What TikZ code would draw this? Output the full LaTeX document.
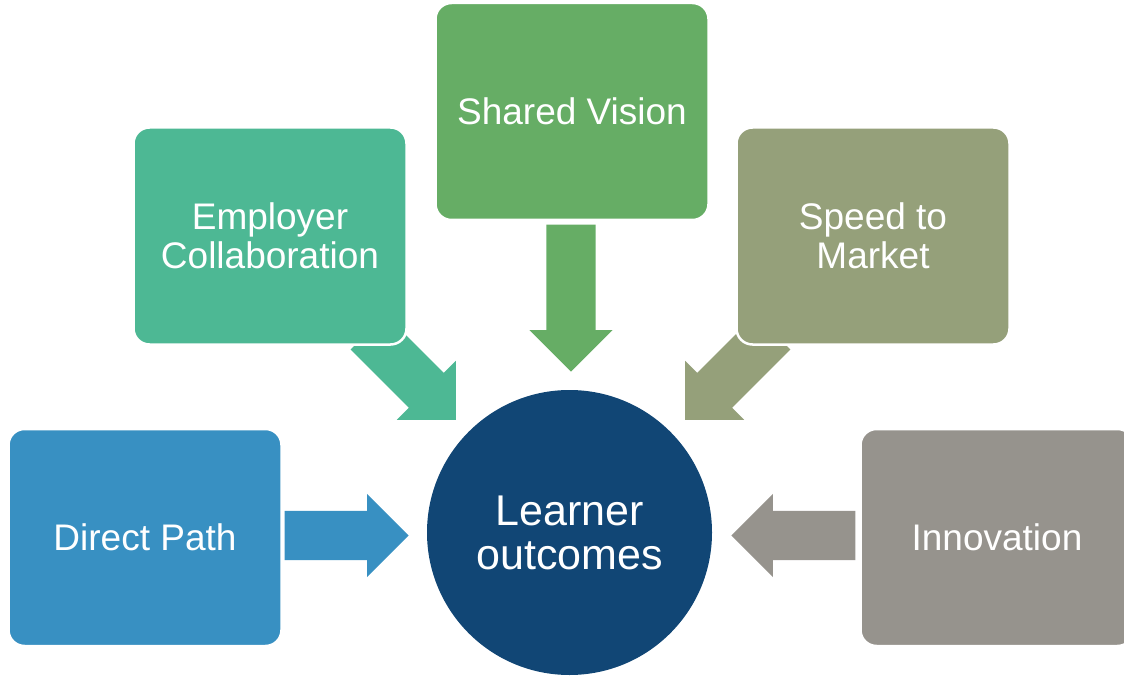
\documentclass[tikz,border=0pt]{standalone}
\usepackage{fontspec}
\setmainfont{Liberation Sans}
\usetikzlibrary{shapes.arrows}

\definecolor{pathblue}{RGB}{56,144,194}
\definecolor{empgreen}{RGB}{77,184,148}
\definecolor{visgreen}{RGB}{102,173,101}
\definecolor{speedolive}{RGB}{149,160,122}
\definecolor{innovgrey}{RGB}{150,147,141}
\definecolor{learnnavy}{RGB}{17,70,117}

\tikzset{
  box/.style={rectangle, rounded corners=16pt, minimum width=273pt, minimum height=217pt,
    inner sep=0pt, draw=white, line width=2.5pt, text=white, align=center,
    font=\fontsize{37}{39.5}\selectfont},
  blockarr/.style={single arrow, minimum height=124pt, inner xsep=0pt, inner ysep=24.5pt,
    single arrow head extend=17pt, anchor=tip},
}

\begin{document}
\begin{tikzpicture}[x=1pt, y=-1pt]
\useasboundingbox (0,0) rectangle (1124,676);

%------------------ ARROWS ------------------%
\node[blockarr, fill=pathblue] (aDpath) at (409,535.5) {};
\node[blockarr, fill=innovgrey, rotate=180] (aInnov) at (731,535.5) {};
\node[blockarr, fill=visgreen, rotate=-90, minimum height=147pt] (aVis) at (571,372) {};
\node[blockarr, fill=empgreen, rotate=-45] (aEmp) at (456,420) {};
\node[blockarr, fill=speedolive, rotate=-135] (aSpeed) at (685,420) {};

%------------------ BOXES ------------------%
\node[box, fill=pathblue] (Dpath) at (145,537.5) {Direct Path};
\node[box, fill=empgreen] (Emp) at (270,236) {Employer\\Collaboration};
\node[box, fill=visgreen] (Vis) at (572,111.5) {Shared Vision};
\node[box, fill=speedolive] (Speed) at (873,236) {Speed to\\Market};
\node[box, fill=innovgrey] (Innov) at (997,537.5) {Innovation};

%------------------ CENTRE ------------------%
\node[circle, fill=learnnavy, minimum size=285pt, inner sep=0pt, text=white,
  align=center, font=\fontsize{43}{44}\selectfont] (Learn) at (569.5,532.5)
  {Learner\\outcomes};

\end{tikzpicture}
\end{document}
